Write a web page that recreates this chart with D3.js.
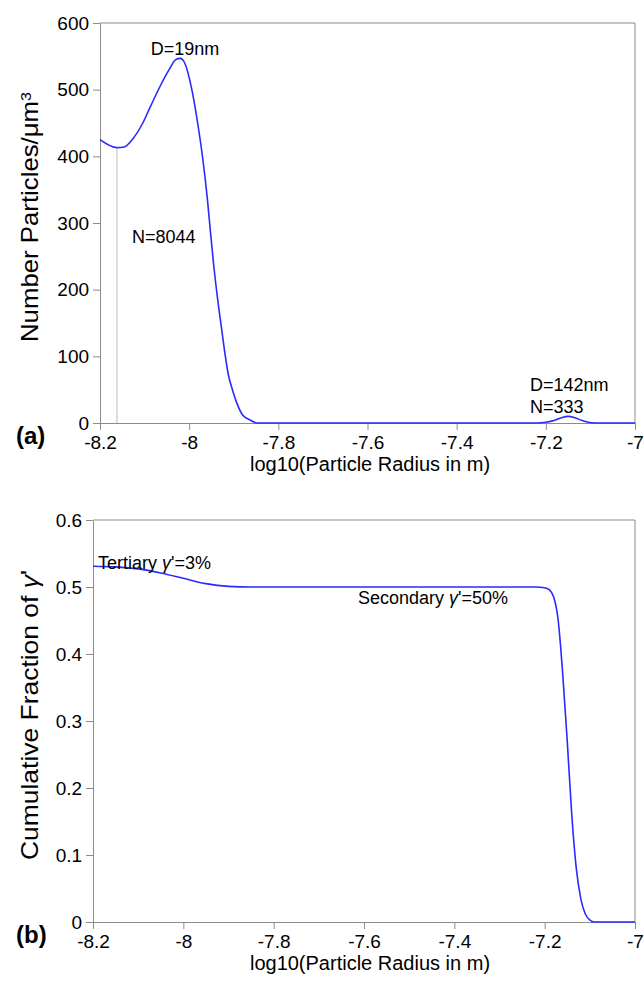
<!DOCTYPE html>
<html><head><meta charset="utf-8">
<script src="https://cdn.jsdelivr.net/npm/d3@7"></script>
<style>body{margin:0;background:#fff;} text{font-family:"Liberation Sans",Arial,sans-serif;}</style>
</head><body>
<svg id="c" width="644" height="981"></svg>
<script>
// Panel (a): number density vs log10 radius
const aX = [-8.200,-8.162,-8.146,-8.128,-8.104,-8.088,-8.066,-8.045,-8.030,-8.020,-8.010,-7.994,-7.981,-7.970,-7.959,-7.952,-7.945,-7.936,-7.927,-7.921,-7.912,-7.903,-7.892,-7.880,-7.865,-7.847,-7.820,
            -7.220,-7.200,-7.180,-7.165,-7.150,-7.135,-7.120,-7.105,-7.090,-7.000];
const aY = [425,413,414,425,450,473,504,530,545,547,540,500,450,399,335,285,237,185,140,110,72,50,28,12,5,0,0,
            0,1,4,8,10,8,4,1,0,0];
// Panel (b): cumulative fraction
const bX = [-8.20,-8.15,-8.10,-8.05,-8.00,-7.95,-7.90,-7.85,-7.22,-7.20,-7.19,-7.18,-7.17,-7.16,-7.15,-7.14,-7.13,-7.12,-7.11,-7.10,-7.09,-7.00];
const bY = [0.531,0.530,0.527,0.521,0.513,0.505,0.501,0.500,0.500,0.499,0.496,0.485,0.45,0.37,0.27,0.16,0.08,0.035,0.012,0.003,0,0];
const xTicks = [-8.2,-8,-7.8,-7.6,-7.4,-7.2,-7];
const aTicks = [0,100,200,300,400,500,600];
const bTicks = [0,0.1,0.2,0.3,0.4,0.5,0.6];

const svg = d3.select("#c");
const axisCol = "#8c8c8c", lineCol = "#2a2aff";

function panel(cfg){
  const x = d3.scaleLinear().domain([-8.2,-7]).range([cfg.left, cfg.right]);
  const y = d3.scaleLinear().domain(cfg.ydom).range([cfg.bottom, cfg.top]);
  const g = svg.append("g");
  g.append("line").attr("x1",cfg.left).attr("x2",cfg.right).attr("y1",cfg.top).attr("y2",cfg.top).attr("stroke",axisCol);
  g.append("line").attr("x1",cfg.right).attr("x2",cfg.right).attr("y1",cfg.top).attr("y2",cfg.bottom).attr("stroke",axisCol);
  const xa = g.append("g").attr("transform",`translate(0,${cfg.bottom})`)
    .call(d3.axisBottom(x).tickValues(xTicks).tickSize(7).tickSizeOuter(0).tickFormat(d=>String(d)));
  const ya = g.append("g").attr("transform",`translate(${cfg.left},0)`)
    .call(d3.axisLeft(y).tickValues(cfg.yticks).tickSize(7).tickSizeOuter(0).tickFormat(d=>String(d)));
  [xa,ya].forEach(a=>{
    a.selectAll("path,line").attr("stroke",axisCol);
    a.selectAll("text").attr("fill","#000").style("font-size","19px").style("font-family","Liberation Sans, Arial, sans-serif");
  });
  xa.selectAll("text").attr("dy","0.85em");
  ya.selectAll("text").attr("dx","-0.05em");
  g.append("path").datum(cfg.xs.map((d,i)=>[d,cfg.ys[i]]))
    .attr("fill","none").attr("stroke",lineCol).attr("stroke-width",1.6)
    .attr("d", d3.line().x(d=>x(d[0])).y(d=>y(d[1])).curve(d3.curveMonotoneX));
  g.append("text").attr("x",370).attr("y",cfg.bottom+48).attr("text-anchor","middle")
    .style("font-size","20px").text("log10(Particle Radius in m)");
  g.append("text").attr("x",16).attr("y",cfg.bottom+21).style("font-size","24px").style("font-weight","bold").text(cfg.tag);
  return {x,y,g};
}

const A = panel({left:100,right:635,top:23,bottom:423,ydom:[0,600],yticks:aTicks,xs:aX,ys:aY,tag:"(a)"});
const B = panel({left:93,right:635,top:520,bottom:922,ydom:[0,0.6],yticks:bTicks,xs:bX,ys:bY,tag:"(b)"});

// Panel a annotations
A.g.append("line").attr("x1",A.x(-8.162)).attr("x2",A.x(-8.162)).attr("y1",A.y(413)).attr("y2",A.y(0))
  .attr("stroke","#777").attr("stroke-dasharray","1,1").attr("stroke-width",1);
A.g.append("text").attr("x",185).attr("y",55).attr("text-anchor","middle").style("font-size","18px").text("D=19nm");
A.g.append("text").attr("x",132).attr("y",243).style("font-size","18px").text("N=8044");
A.g.append("text").attr("x",530).attr("y",391).style("font-size","18px").text("D=142nm");
A.g.append("text").attr("x",530).attr("y",413).style("font-size","18px").text("N=333");
const ta = A.g.append("text").attr("transform","translate(38,217) rotate(-90)").attr("text-anchor","middle").style("font-size","24px")
  .attr("textLength",250).attr("lengthAdjust","spacingAndGlyphs");
ta.append("tspan").text("Number Particles/\u03bcm");
ta.append("tspan").attr("dy","-0.5em").style("font-size","15px").text("3");

// Panel b annotations
const t1 = B.g.append("text").attr("x",98).attr("y",569).style("font-size","18px");
t1.append("tspan").text("Tertiary ");
t1.append("tspan").style("font-style","italic").text("\u03b3");
t1.append("tspan").text("'=3%");
const t2 = B.g.append("text").attr("x",358).attr("y",604).style("font-size","18px");
t2.append("tspan").text("Secondary ");
t2.append("tspan").style("font-style","italic").text("\u03b3");
t2.append("tspan").text("'=50%");
const tb = B.g.append("text").attr("transform","translate(38,715) rotate(-90)").attr("text-anchor","middle").style("font-size","24px")
  .attr("textLength",290).attr("lengthAdjust","spacingAndGlyphs");
tb.append("tspan").text("Cumulative Fraction of ");
tb.append("tspan").style("font-style","italic").text("\u03b3");
tb.append("tspan").text("'");
</script>
</body></html>
